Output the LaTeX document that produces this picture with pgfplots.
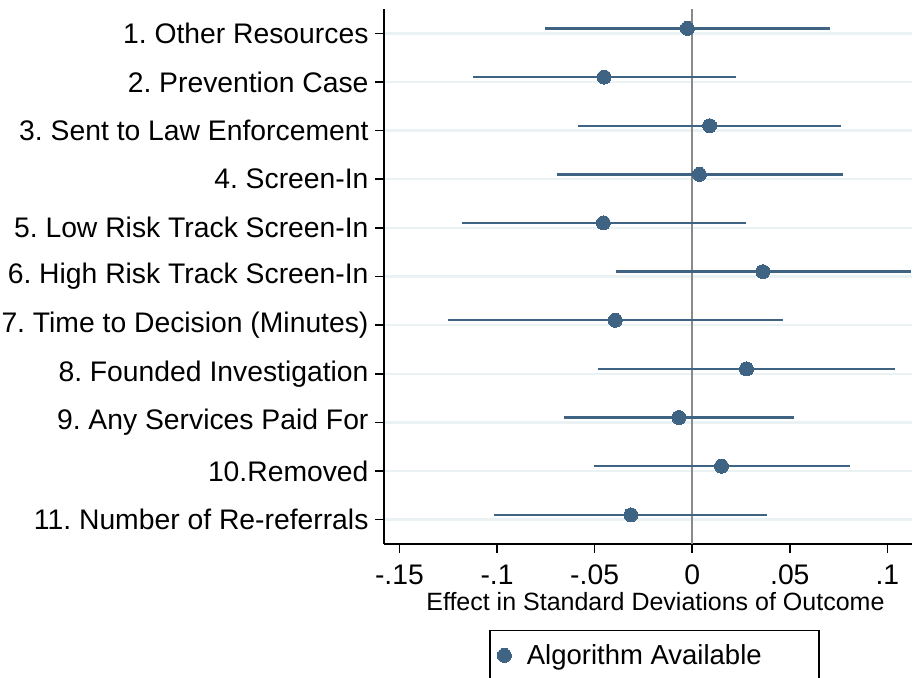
\documentclass[border=0pt]{standalone}
\usepackage{pgfplots}
\pgfplotsset{compat=1.18}
\usepackage{pgfplotstable}
\usepackage{fontspec}
\setmainfont{Liberation Sans}
\frenchspacing

\definecolor{coef}{RGB}{62,99,131}
\definecolor{gridc}{RGB}{234,242,243}
\definecolor{zeroc}{RGB}{138,138,138}

% pos = row position (top row = 11), shifted up a little as coefplot does
\pgfplotstableread{
pos   b        lo       hi
11.1  -0.0025  -0.0756  0.0706
10.1  -0.0451  -0.1125  0.0225
9.1    0.0089  -0.0585  0.0763
8.1    0.0037  -0.0692  0.0770
7.1   -0.0455  -0.1179  0.0275
6.1    0.0362  -0.0392  0.1122
5.1   -0.0394  -0.1250  0.0465
4.1    0.0278  -0.0481  0.1038
3.1   -0.0068  -0.0656  0.0519
2.1    0.0150  -0.0505  0.0806
1.1   -0.0314  -0.1018  0.0385
}\coefs

\begin{document}
\begin{tikzpicture}
\useasboundingbox (0,0) rectangle (915pt,677pt);
\begin{axis}[
    at={(384pt,133pt)}, anchor=south west,
    scale only axis, width=528pt, height=535pt,
    xmin=-0.1579, xmax=0.1126, ymin=0.5, ymax=11.5,
    axis x line*=bottom, axis y line*=left,
    axis line style={black, line width=1.5pt},
    tick align=outside, major tick length=9pt,
    tick style={black, line width=1.5pt},
    xtick={-0.15,-0.1,-0.05,0,0.05,0.1},
    xticklabels={-.15,-.1,-.05,0,.05,.1},
    ytick={1,...,11},
    yticklabels={11. Number of Re-referrals, 10.Removed, 9. Any Services Paid For,
        8. Founded Investigation, 7. Time to Decision (Minutes),
        6. High Risk Track Screen-In, 5. Low Risk Track Screen-In, 4. Screen-In,
        3. Sent to Law Enforcement, 2. Prevention Case, 1. Other Resources},
    ymajorgrids, major grid style={gridc, line width=2.5pt},
    tick label style={font=\fontsize{28.3}{34}\selectfont},
    x tick label style={yshift=-8pt},
    y tick label style={xshift=-3pt},
    xlabel={Effect in Standard Deviations of Outcome},
    xlabel style={font=\fontsize{25}{30}\selectfont, at={(axis description cs:0.514,-0.108)}, anchor=center},
    legend style={at={(0.199,-0.1607)}, anchor=north west, draw=black, line width=1.5pt,
        inner xsep=7.5pt, inner ysep=12pt, font=\fontsize{27.5}{33}\selectfont,
        /tikz/column sep=13.5pt},
    legend cell align=left,
]
\addplot[zeroc, line width=2.5pt, forget plot] coordinates {(0,0.5) (0,11.5)};
\addplot[coef, only marks, mark=*, mark size=7pt, mark options={fill=coef, draw=coef, line width=0pt},
    error bars/.cd, x dir=both, x explicit, error mark=none,
    error bar style={line width=2.4pt, coef}]
    table[x=b, y=pos, x error plus expr=\thisrow{hi}-\thisrow{b}, x error minus expr=\thisrow{b}-\thisrow{lo}] {\coefs};
\addlegendentry{Algorithm Available\rule{48pt}{0pt}}
\end{axis}
\end{tikzpicture}
\end{document}
